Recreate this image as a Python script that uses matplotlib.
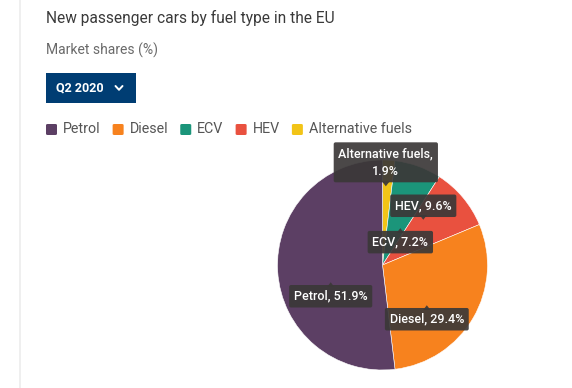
import matplotlib.pyplot as plt
import numpy as np
from matplotlib.patches import Rectangle, FancyBboxPatch

plt.rcParams['font.family'] = ['Roboto', 'DejaVu Sans']

# Dados (ordem horária a partir do topo, como no gráfico)
fuels = ['Alternative fuels', 'ECV', 'HEV', 'Diesel', 'Petrol']
shares = [1.9, 7.2, 9.6, 29.4, 51.9]
colors = ['#f2c417', '#1b957a', '#e9513f', '#f7821e', '#5c3f64']

legend_order = ['Petrol', 'Diesel', 'ECV', 'HEV', 'Alternative fuels']
quarter = 'Q2 2020'

W, H = 572, 388
fig = plt.figure(figsize=(W / 100, H / 100), dpi=100)
fig.patch.set_facecolor('white')

def px(x, y):
    return x / W, 1 - y / H

# borda cinza à esquerda
fig.add_artist(plt.Line2D([20 / W, 20 / W], [0, 1], color='#ececec', lw=1.2))

fig.text(*px(46, 18), 'New passenger cars by fuel type in the EU', fontsize=11.2,
         color='#3a3a3a', va='center', ha='left')
fig.text(*px(46, 50), 'Market shares (%)', fontsize=10, color='#6a6a6a',
         va='center', ha='left')

# botão do trimestre
fig.add_artist(Rectangle(px(46, 103), 90 / W, 30 / H, transform=fig.transFigure,
                         facecolor='#003d73', edgecolor='none'))
fig.text(*px(56, 88), quarter, fontsize=9, color='white', fontweight='bold',
         va='center', ha='left')
cx, cy = 119, 88
fig.add_artist(plt.Line2D([(cx - 3.5) / W, cx / W, (cx + 3.5) / W],
                          [1 - (cy - 2) / H, 1 - (cy + 1.8) / H, 1 - (cy - 2) / H],
                          color='white', lw=1.4, solid_capstyle='round'))

# legenda
lx = 46
for name in legend_order:
    c = colors[fuels.index(name)]
    fig.add_artist(FancyBboxPatch(px(lx, 135), 11 / W, 11 / H, transform=fig.transFigure,
                                  boxstyle='round,pad=0,rounding_size=0.003',
                                  facecolor=c, edgecolor='none'))
    t = fig.text(*px(lx + 17, 129), name, fontsize=10.3, color='#555555',
                 va='center', ha='left')
    fig.canvas.draw()
    bb = t.get_window_extent()
    lx = bb.x1 + 12

# pizza
R = 105
ax = fig.add_axes([(382.5 - R) / W, (H - 265 - R) / H, 2 * R / W, 2 * R / H])
ax.pie(shares, colors=colors, startangle=90, counterclock=False, radius=1,
       wedgeprops=dict(edgecolor='white', linewidth=0.4))
ax.set_xlim(-1, 1)
ax.set_ylim(-1, 1)
ax.set_aspect('equal')
ax.axis('off')

# rótulos: (ajuste de ângulo, fração do raio, caixa acima/abaixo)
label_layout = {
    'Alternative fuels': (-1, 0.75, 'above'),
    'ECV': (6, 0.39, 'below'),
    'HEV': (-8, 0.58, 'above'),
    'Diesel': (12, 0.57, 'below'),
    'Petrol': (-15, 0.52, 'below'),
}

total = sum(shares)
start = 0.0
for name, val in zip(fuels, shares):
    span = val / total * 360
    mid = start + span / 2
    start += span
    da, rf, side = label_layout[name]
    ang = np.radians(mid + da)
    x, y = rf * np.sin(ang), rf * np.cos(ang)
    if name == 'Alternative fuels':
        txt = f'{name},\n{val}%'
    else:
        txt = f'{name}, {val}%'
    off = 14 if side == 'above' else -14
    if name == 'Alternative fuels':
        off = 24
    ax.annotate(txt, (x, y), xytext=(0, off), textcoords='offset pixels',
                ha='center', va='center', fontsize=9, color='white', fontweight='medium',
                linespacing=1.45,
                bbox=dict(boxstyle='round,pad=0.38,rounding_size=0.15',
                          facecolor='#3b3838', edgecolor='none', alpha=0.92))
    # ponteiro
    tri_dy = 0.045 if side == 'above' else -0.045
    ax.fill([x - 0.035, x + 0.035, x], [y + tri_dy, y + tri_dy, y],
            color='#3b3838', alpha=0.92, lw=0)

fig.savefig('out.png', dpi=100, facecolor='white')
